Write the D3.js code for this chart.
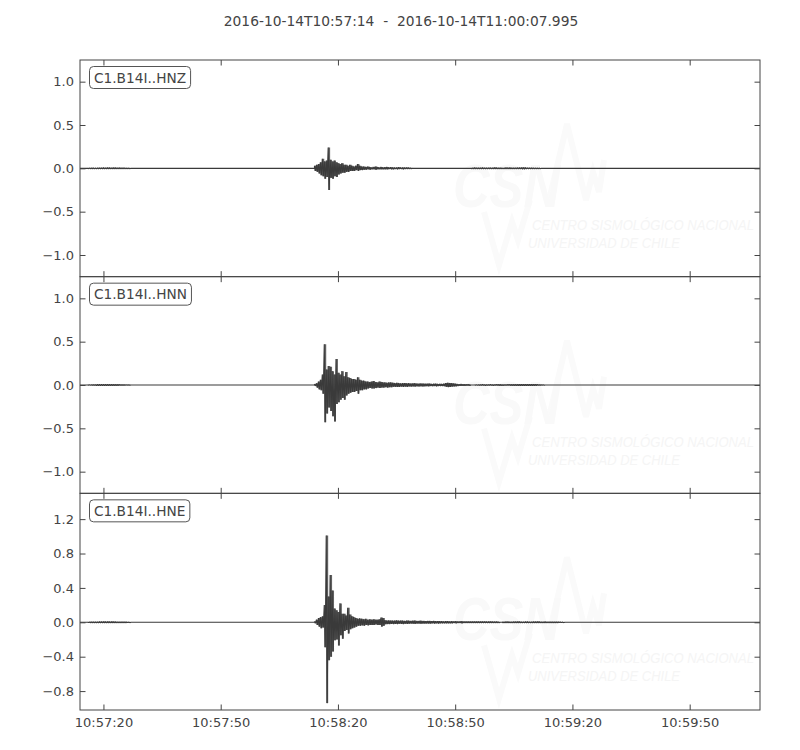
<!DOCTYPE html>
<html><head><meta charset="utf-8">
<script src="https://cdn.jsdelivr.net/npm/d3@7"></script>
<style>
body{margin:0;background:#fff}
svg{display:block;font-family:"DejaVu Sans",sans-serif}
</style>
</head><body><svg id="chart" width="800" height="750"></svg>
<script>
// ---------------- data ----------------
const titleText = "2016-10-14T10:57:14  -  2016-10-14T11:00:07.995";
const startTime = "2016-10-14T10:57:14.000Z";
const endTime = "2016-10-14T11:00:07.995Z";
const channels = ["C1.B14I..HNZ", "C1.B14I..HNN", "C1.B14I..HNE"];
const xTickLabels = ["10:57:20", "10:57:50", "10:58:20", "10:58:50", "10:59:20", "10:59:50"];
const yDomains = [[-1.25, 1.25], [-1.25, 1.25], [-1.02, 1.5]];
const yTicks = [[-1.0, -0.5, 0.0, 0.5, 1.0], [-1.0, -0.5, 0.0, 0.5, 1.0], [-0.8, -0.4, 0.0, 0.4, 0.8, 1.2]];

// Envelope samples (max / min per sample window), seconds after start time.
// pre-event noise: start 2 s, step 0.5 s
const preStart = 2, preStep = 0.5;
const hnzPreHi = [0.004, 0.005, 0.006, 0.005, 0.005, 0.006, 0.007, 0.006, 0.008, 0.007, 0.008, 0.008, 0.007, 0.008, 0.008, 0.007, 0.007, 0.006, 0.006, 0.005, 0.004, 0.004];
const hnzPreLo = [-0.004, -0.005, -0.006, -0.006, -0.006, -0.007, -0.007, -0.008, -0.008, -0.008, -0.008, -0.007, -0.008, -0.008, -0.007, -0.007, -0.006, -0.006, -0.005, -0.005, -0.004, -0.004];
const hnnPreHi = [0.004, 0.004, 0.005, 0.005, 0.005, 0.006, 0.006, 0.006, 0.007, 0.006, 0.007, 0.007, 0.006, 0.007, 0.006, 0.006, 0.006, 0.005, 0.005, 0.004, 0.004, 0.003];
const hnnPreLo = [-0.004, -0.004, -0.005, -0.005, -0.006, -0.006, -0.006, -0.007, -0.006, -0.007, -0.007, -0.006, -0.007, -0.006, -0.006, -0.006, -0.005, -0.005, -0.005, -0.004, -0.004, -0.003];
const hnePreHi = [0.004, 0.005, 0.005, 0.006, 0.006, 0.006, 0.007, 0.007, 0.008, 0.007, 0.008, 0.007, 0.008, 0.007, 0.007, 0.006, 0.006, 0.006, 0.005, 0.005, 0.004, 0.004];
const hnePreLo = [-0.004, -0.005, -0.005, -0.006, -0.006, -0.007, -0.007, -0.007, -0.007, -0.008, -0.007, -0.008, -0.007, -0.007, -0.007, -0.006, -0.006, -0.005, -0.005, -0.005, -0.004, -0.004];

// main event: start 60 s, step 0.5 s
const mainStart = 60, mainStep = 0.5;
const hnzMainHi = [0.03, 0.04, 0.05, 0.07, 0.11, 0.08, 0.09, 0.24, 0.10, 0.08,
  0.09, 0.07, 0.06, 0.05, 0.06, 0.04, 0.04, 0.03, 0.04, 0.03,
  0.02, 0.03, 0.05, 0.03, 0.02, 0.02, 0.015, 0.02, 0.015, 0.01,
  0.015, 0.02, 0.015, 0.01, 0.015, 0.01, 0.012, 0.015, 0.01, 0.012,
  0.01, 0.008, 0.01, 0.012, 0.008, 0.01, 0.008, 0.01, 0.008, 0.006];
const hnzMainLo = [-0.03, -0.04, -0.06, -0.08, -0.09, -0.12, -0.10, -0.25, -0.11, -0.12,
  -0.09, -0.10, -0.07, -0.06, -0.05, -0.05, -0.04, -0.04, -0.03, -0.03,
  -0.03, -0.02, -0.03, -0.02, -0.02, -0.015, -0.015, -0.012, -0.015, -0.01,
  -0.012, -0.015, -0.01, -0.01, -0.012, -0.01, -0.01, -0.012, -0.008, -0.01,
  -0.01, -0.008, -0.01, -0.008, -0.008, -0.01, -0.006, -0.008, -0.006, -0.006];
const hnnMainHi = [0.01, 0.02, 0.04, 0.06, 0.12, 0.47, 0.18, 0.22, 0.21, 0.16,
  0.12, 0.30, 0.14, 0.12, 0.16, 0.10, 0.15, 0.09, 0.08, 0.07,
  0.07, 0.06, 0.09, 0.06, 0.05, 0.05, 0.04, 0.04, 0.035, 0.04,
  0.045, 0.035, 0.03, 0.04, 0.035, 0.03, 0.03, 0.025, 0.03, 0.03,
  0.025, 0.02, 0.025, 0.02, 0.018, 0.02, 0.022, 0.018, 0.02, 0.016,
  0.018, 0.02, 0.016, 0.015, 0.018, 0.016, 0.014, 0.015, 0.016, 0.014,
  0.012, 0.014, 0.015, 0.012, 0.013, 0.012, 0.014, 0.022, 0.025, 0.022,
  0.02, 0.018, 0.015, 0.01, 0.008, 0.01, 0.008, 0.007, 0.008, 0.006];
const hnnMainLo = [-0.01, -0.03, -0.05, -0.06, -0.10, -0.43, -0.33, -0.26, -0.30, -0.36,
  -0.42, -0.22, -0.20, -0.17, -0.15, -0.17, -0.12, -0.10, -0.09, -0.08,
  -0.08, -0.07, -0.10, -0.06, -0.06, -0.05, -0.05, -0.04, -0.035, -0.04,
  -0.04, -0.035, -0.03, -0.035, -0.03, -0.03, -0.025, -0.03, -0.025, -0.025,
  -0.02, -0.02, -0.022, -0.02, -0.018, -0.02, -0.018, -0.02, -0.016, -0.018,
  -0.016, -0.018, -0.015, -0.016, -0.015, -0.016, -0.014, -0.013, -0.015, -0.012,
  -0.013, -0.012, -0.014, -0.012, -0.012, -0.011, -0.013, -0.02, -0.024, -0.022,
  -0.018, -0.016, -0.014, -0.01, -0.009, -0.008, -0.008, -0.007, -0.006, -0.006];
const hneMainHi = [0.01, 0.03, 0.05, 0.06, 0.07, 0.20, 1.01, 0.30, 0.55, 0.37,
  0.16, 0.14, 0.12, 0.22, 0.10, 0.10, 0.08, 0.17, 0.09, 0.07,
  0.06, 0.05, 0.04, 0.045, 0.04, 0.035, 0.04, 0.03, 0.035, 0.03,
  0.035, 0.03, 0.03, 0.035, 0.055, 0.05, 0.025, 0.02, 0.022, 0.02,
  0.018, 0.02, 0.022, 0.018, 0.02, 0.018, 0.016, 0.02, 0.018, 0.016,
  0.018, 0.02, 0.016, 0.015, 0.018, 0.016, 0.015, 0.014, 0.016, 0.015,
  0.014, 0.016, 0.013, 0.014, 0.012, 0.012, 0.01, 0.012, 0.011, 0.01,
  0.012, 0.01, 0.011, 0.01, 0.009, 0.011, 0.01, 0.009, 0.01, 0.009,
  0.008, 0.01, 0.009, 0.008, 0.009, 0.008, 0.008, 0.009, 0.007, 0.008,
  0.008, 0.007, 0.007, 0.008, 0.006];
const hneMainLo = [-0.01, -0.03, -0.05, -0.07, -0.06, -0.29, -0.94, -0.44, -0.40, -0.34,
  -0.21, -0.20, -0.27, -0.15, -0.19, -0.10, -0.09, -0.13, -0.08, -0.07,
  -0.06, -0.05, -0.04, -0.04, -0.035, -0.04, -0.03, -0.035, -0.03, -0.03,
  -0.03, -0.025, -0.03, -0.03, -0.05, -0.04, -0.022, -0.02, -0.02, -0.018,
  -0.02, -0.018, -0.02, -0.016, -0.018, -0.02, -0.016, -0.018, -0.016, -0.015,
  -0.016, -0.018, -0.015, -0.014, -0.016, -0.015, -0.014, -0.013, -0.015, -0.014,
  -0.012, -0.014, -0.012, -0.013, -0.011, -0.011, -0.01, -0.011, -0.01, -0.01,
  -0.011, -0.009, -0.01, -0.009, -0.009, -0.01, -0.009, -0.008, -0.009, -0.008,
  -0.008, -0.009, -0.008, -0.007, -0.008, -0.007, -0.008, -0.007, -0.007, -0.007,
  -0.006, -0.007, -0.006, -0.006, -0.006];

// late noise: step 0.5 s
const lateStep = 0.5;
const lateStarts = [100, 101, 108];
const hnzLateHi = [0.005, 0.006, 0.007, 0.006, 0.006, 0.007, 0.008, 0.007, 0.006, 0.006, 0.007, 0.007, 0.009, 0.008, 0.006, 0.006, 0.005, 0.006,
  0.007, 0.007, 0.008, 0.007, 0.006, 0.006, 0.007, 0.008, 0.01, 0.009, 0.008, 0.007, 0.006, 0.006, 0.005, 0.005, 0.004, 0.004];
const hnzLateLo = [-0.005, -0.006, -0.006, -0.007, -0.007, -0.007, -0.008, -0.007, -0.006, -0.006, -0.008, -0.007, -0.008, -0.008, -0.007, -0.006, -0.006, -0.006,
  -0.006, -0.007, -0.007, -0.008, -0.006, -0.006, -0.007, -0.008, -0.009, -0.009, -0.008, -0.007, -0.006, -0.006, -0.005, -0.005, -0.004, -0.004];
const hnnLateHi = [0.004, 0.004, 0.005, 0.005, 0.006, 0.005, 0.005, 0.005, 0.006, 0.005, 0.005, 0.006, 0.006, 0.006, 0.005, 0.005, 0.005, 0.006,
  0.006, 0.006, 0.007, 0.007, 0.008, 0.008, 0.009, 0.009, 0.008, 0.008, 0.009, 0.009, 0.008, 0.008, 0.006, 0.005, 0.004, 0.004];
const hnnLateLo = [-0.004, -0.004, -0.005, -0.005, -0.005, -0.006, -0.005, -0.005, -0.005, -0.006, -0.005, -0.005, -0.006, -0.006, -0.006, -0.005, -0.005, -0.005,
  -0.006, -0.006, -0.007, -0.007, -0.008, -0.008, -0.008, -0.009, -0.009, -0.008, -0.008, -0.008, -0.007, -0.007, -0.005, -0.005, -0.004, -0.004];
const hneLateHi = [0.006, 0.006, 0.007, 0.007, 0.006, 0.006, 0.007, 0.007, 0.008, 0.007, 0.006, 0.006, 0.007, 0.007, 0.006, 0.006, 0.007, 0.007,
  0.008, 0.007, 0.006, 0.006, 0.007, 0.006, 0.006, 0.005, 0.006, 0.005, 0.005, 0.005, 0.004, 0.004];
const hneLateLo = [-0.006, -0.006, -0.006, -0.007, -0.007, -0.006, -0.006, -0.007, -0.007, -0.007, -0.006, -0.006, -0.007, -0.006, -0.006, -0.006, -0.007, -0.007,
  -0.006, -0.007, -0.006, -0.006, -0.006, -0.006, -0.005, -0.005, -0.006, -0.005, -0.005, -0.004, -0.004, -0.004];

// ---------------- build ----------------
const segmentsByChannel = [
  [{t0: preStart, dt: preStep, hi: hnzPreHi, lo: hnzPreLo},
   {t0: mainStart, dt: mainStep, hi: hnzMainHi, lo: hnzMainLo},
   {t0: lateStarts[0], dt: lateStep, hi: hnzLateHi, lo: hnzLateLo}],
  [{t0: preStart, dt: preStep, hi: hnnPreHi, lo: hnnPreLo},
   {t0: mainStart, dt: mainStep, hi: hnnMainHi, lo: hnnMainLo},
   {t0: lateStarts[1], dt: lateStep, hi: hnnLateHi, lo: hnnLateLo}],
  [{t0: preStart, dt: preStep, hi: hnePreHi, lo: hnePreLo},
   {t0: mainStart, dt: mainStep, hi: hneMainHi, lo: hneMainLo},
   {t0: lateStarts[2], dt: lateStep, hi: hneLateHi, lo: hneLateLo}]
];

(function () {
const tStart = new Date(startTime), tEnd = new Date(endTime);
const totalSec = (tEnd - tStart) / 1000;
const at = s => new Date(tStart.getTime() + s * 1000);

function tracePoints(segs) {
  const pts = [[0, 0]];
  segs.forEach(sg => {
    pts.push([sg.t0, 0]);
    sg.hi.forEach((h, i) => {
      const t = sg.t0 + i * sg.dt;
      pts.push([t, h]);
      pts.push([t + sg.dt / 2, sg.lo[i]]);
    });
    pts.push([sg.t0 + sg.hi.length * sg.dt, 0]);
  });
  pts.push([totalSec, 0]);
  return pts;
}
function envelopeRows(sg) {
  const rows = sg.hi.map((h, i) => [sg.t0 + i * sg.dt, h, sg.lo[i]]);
  rows.push([sg.t0 + sg.hi.length * sg.dt, 0, 0]);
  return rows;
}

const svg = d3.select("#chart");
const mLeft = 80, mRight = 760, mTop = 60, mBottom = 710;
const panelH = (mBottom - mTop) / 3;
const ink = "#444";
const traceColor = "#3a3a3a";

const x = d3.scaleUtc().domain([tStart, tEnd]).range([mLeft, mRight]);
const tickDates = xTickLabels.map(l => new Date("2016-10-14T" + l + ".000Z"));

svg.append("text")
  .attr("x", 401).attr("y", 26)
  .attr("text-anchor", "middle")
  .attr("font-size", 13.8).attr("fill", ink)
  .style("white-space", "pre")
  .attr("xml:space", "preserve")
  .text(titleText);

const defs = svg.append("defs");

channels.forEach((ch, k) => {
  const y0 = mTop + k * panelH, y1 = y0 + panelH;
  const y = d3.scaleLinear().domain(yDomains[k]).range([y1, y0]);
  const g = svg.append("g");

  // very faint watermark
  const wm = g.append("g").attr("transform", `translate(0,${k * panelH})`);
  wm.append("path")
    .attr("d", "M484,212 L499,265 L512,222 L518,240 L530,200 M548,205 L567,124 L586,200 L593,172 L599,192 L604,160")
    .attr("fill", "none").attr("stroke", "#fafafa").attr("stroke-width", 6);
  wm.append("text").attr("x", 453).attr("y", 207)
    .attr("font-family", "Liberation Sans, sans-serif")
    .attr("font-size", 62).attr("font-weight", "bold").attr("font-style", "italic")
    .attr("textLength", 107).attr("lengthAdjust", "spacingAndGlyphs")
    .attr("fill", "#f9f9f9").text("CSN");
  wm.append("text").attr("x", 532).attr("y", 230)
    .attr("font-family", "Liberation Sans, sans-serif")
    .attr("font-size", 15).attr("font-style", "italic")
    .attr("textLength", 222).attr("lengthAdjust", "spacingAndGlyphs")
    .attr("fill", "#f5f5f5").text("CENTRO SISMOLÓGICO NACIONAL");
  wm.append("text").attr("x", 528).attr("y", 248)
    .attr("font-family", "Liberation Sans, sans-serif")
    .attr("font-size", 15).attr("font-style", "italic")
    .attr("textLength", 152).attr("lengthAdjust", "spacingAndGlyphs")
    .attr("fill", "#f5f5f5").text("UNIVERSIDAD DE CHILE");

  defs.append("clipPath").attr("id", "clip" + k)
    .append("rect").attr("x", mLeft).attr("y", y0).attr("width", mRight - mLeft).attr("height", panelH);

  const tg = g.append("g").attr("clip-path", `url(#clip${k})`);
  // min/max envelope per sample window
  const area = d3.area().curve(d3.curveStepAfter)
    .x(d => x(at(d[0]))).y0(d => y(d[2])).y1(d => y(d[1]));
  segmentsByChannel[k].forEach(sg => {
    tg.append("path").attr("d", area(envelopeRows(sg)))
      .attr("fill", traceColor).attr("fill-opacity", 0.8).attr("stroke", "none");
  });
  // the trace itself
  const line = d3.line().x(d => x(at(d[0]))).y(d => y(d[1]));
  tg.append("path")
    .attr("d", line(tracePoints(segmentsByChannel[k])))
    .attr("fill", "none").attr("stroke", traceColor).attr("stroke-width", 1.1)
    .attr("stroke-linejoin", "bevel");

  const fmt = d3.format(".1f");
  const ax = g.append("g").attr("transform", `translate(${mLeft},0)`)
    .call(d3.axisLeft(y).tickValues(yTicks[k]).tickSize(-5.5).tickPadding(6)
      .tickFormat(v => fmt(v).replace("-", "\u2212")));
  const axR = g.append("g").attr("transform", `translate(${mRight},0)`)
    .call(d3.axisRight(y).tickValues(yTicks[k]).tickSize(-5.5).tickFormat(""));
  const axT = g.append("g").attr("transform", `translate(0,${y0})`)
    .call(d3.axisTop(x).tickValues(tickDates).tickSize(-5.5).tickFormat(""));
  const axB = g.append("g").attr("transform", `translate(0,${y1})`)
    .call(d3.axisBottom(x).tickValues(tickDates).tickSize(-5.5).tickPadding(8)
      .tickFormat(k === channels.length - 1 ? d3.utcFormat("%H:%M:%S") : () => ""));
  [ax, axR, axT, axB].forEach(a => {
    a.select(".domain").remove();
    a.selectAll("line").attr("stroke", ink);
    a.selectAll("text").attr("fill", ink).attr("font-size", 13).attr("font-family", "DejaVu Sans, sans-serif");
  });

  g.append("rect").attr("x", mLeft).attr("y", y0).attr("width", mRight - mLeft).attr("height", panelH)
    .attr("fill", "none").attr("stroke", ink).attr("stroke-width", 1);

  const lab = g.append("g");
  const txt = lab.append("text").attr("x", 94).attr("y", y0 + 22.5)
    .attr("font-size", 13.7).attr("fill", ink).text(ch);
  const bb = txt.node().getBBox();
  lab.insert("rect", "text")
    .attr("x", bb.x - 4.5).attr("y", y0 + 6.5).attr("width", bb.width + 9).attr("height", 22)
    .attr("rx", 4).attr("ry", 4)
    .attr("fill", "#fff").attr("stroke", "#555").attr("stroke-width", 1);
});
})();
</script>
</body></html>
